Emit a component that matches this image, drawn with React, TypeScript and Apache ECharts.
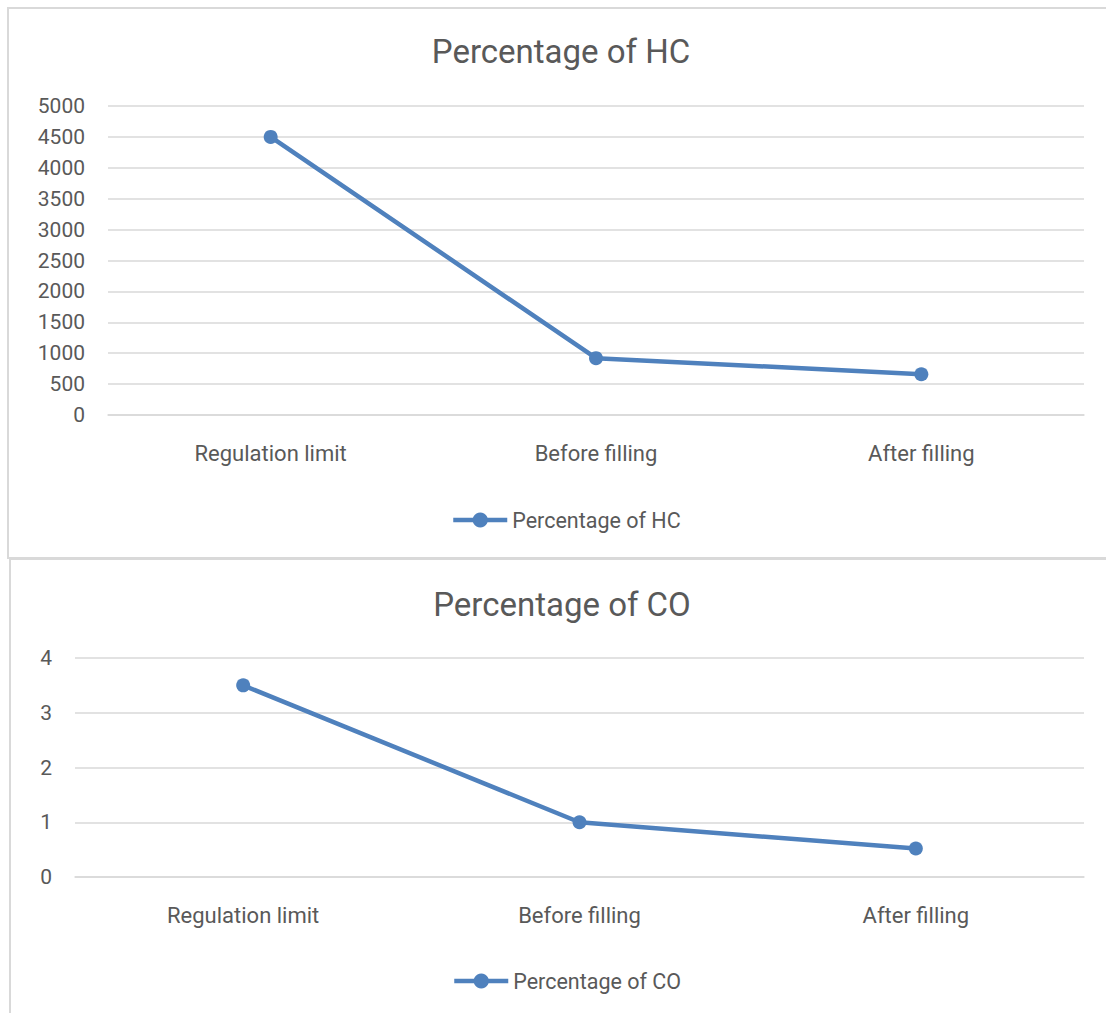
import React, { useEffect, useRef } from "react";
import * as echarts from "echarts";

const categories = ["Regulation limit", "Before filling", "After filling"];
const hcValues = [4500, 920, 660];
const coValues = [3.5, 1.0, 0.52];
const hcName = "Percentage of HC";
const coName = "Percentage of CO";

const FONT = "Roboto";
const TXT = "#595959";
const GRID = "#d9d9d9";
const BLUE = "#4f81bd";

export default function App() {
  const ref = useRef<HTMLDivElement>(null);
  useEffect(() => {
    if (!ref.current) return;
    const chart = echarts.init(ref.current, undefined, { renderer: "svg" });
    const xAxisBase = {
      type: "category" as const,
      data: categories,
      axisLine: { show: true, lineStyle: { color: GRID, width: 1.5 } },
      axisTick: { show: false },
      axisLabel: { color: TXT, fontFamily: FONT, fontSize: 22, margin: 27 },
    };
    const yAxisBase = {
      type: "value" as const,
      axisLine: { show: false },
      axisTick: { show: false },
      splitLine: { lineStyle: { color: GRID, width: 1.5 } },
      axisLabel: {
        color: TXT,
        fontFamily: FONT,
        fontSize: 21,
        margin: 23,
        formatter: (v: number) => String(v),
      },
    };
    const seriesBase = {
      type: "line" as const,
      symbol: "circle",
      symbolSize: 14,
      itemStyle: { color: BLUE },
      lineStyle: { color: BLUE, width: 4.5 },
    };
    const legendBase = {
      itemWidth: 54,
      itemHeight: 19,
      itemGap: 5,
      lineStyle: { width: 4.5, color: BLUE },
      textStyle: { color: TXT, fontFamily: FONT, fontSize: 21.5, padding: [0, 0, 0, 0] },
    };
    chart.setOption({
      animation: false,
      backgroundColor: "#ffffff",
      grid: [
        { left: 108, right: 22, top: 106, height: 309 },
        { left: 75, right: 22, top: 658, height: 219 },
      ],
      xAxis: [
        { ...xAxisBase, gridIndex: 0 },
        { ...xAxisBase, gridIndex: 1 },
      ],
      yAxis: [
        { ...yAxisBase, gridIndex: 0, min: 0, max: 5000, interval: 500 },
        { ...yAxisBase, gridIndex: 1, min: 0, max: 4, interval: 1 },
      ],
      legend: [
        { ...legendBase, data: [hcName], left: 446, top: 504 },
        { ...legendBase, data: [coName], left: 447, top: 965 },
      ],
      series: [
        { ...seriesBase, name: hcName, xAxisIndex: 0, yAxisIndex: 0, data: hcValues },
        { ...seriesBase, name: coName, xAxisIndex: 1, yAxisIndex: 1, data: coValues },
      ],
      graphic: [
        {
          type: "rect",
          shape: { x: 8, y: 8, width: 1200, height: 550 },
          style: { fill: "none", stroke: GRID, lineWidth: 2 },
          silent: true,
        },
        {
          type: "rect",
          shape: { x: 10, y: 559, width: 1200, height: 600 },
          style: { fill: "none", stroke: GRID, lineWidth: 2 },
          silent: true,
        },
        {
          type: "text",
          x: 561,
          y: 51,
          style: {
            text: hcName,
            fill: TXT,
            fontFamily: FONT,
            fontSize: 33,
            textAlign: "center",
            textVerticalAlign: "middle",
          },
        },
        {
          type: "text",
          x: 562,
          y: 604,
          style: {
            text: coName,
            fill: TXT,
            fontFamily: FONT,
            fontSize: 33,
            textAlign: "center",
            textVerticalAlign: "middle",
          },
        },
      ],
    });
    return () => chart.dispose();
  }, []);
  return (
    <div
      ref={ref}
      style={{ position: "absolute", left: 0, top: 0, width: 1106, height: 1013 }}
    />
  );
}
